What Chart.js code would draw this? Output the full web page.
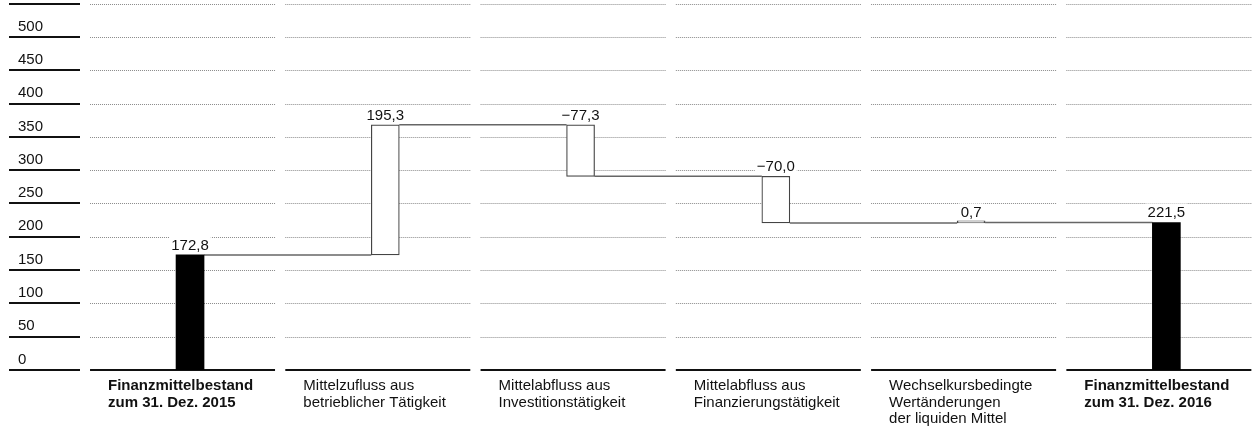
<!DOCTYPE html>
<html lang="de">
<head>
<meta charset="utf-8">
<title>Finanzmittelbestand 2016</title>
<script src="https://cdn.jsdelivr.net/npm/chart.js@4.4.0/dist/chart.umd.min.js"></script>
<style>
    html, body { margin: 0; padding: 0; background: #fff; overflow: hidden; }
    #wrap { width: 1264px; height: 435px; }
</style>
</head>
<body>
<div id="wrap"><canvas id="myChart" width="1264" height="435"></canvas></div>
<script>
//
// DATA (Mio. €)
//
const categories = [
    ['Finanzmittelbestand', 'zum 31. Dez. 2015'],
    ['Mittelzufluss aus', 'betrieblicher Tätigkeit'],
    ['Mittelabfluss aus', 'Investitionstätigkeit'],
    ['Mittelabfluss aus', 'Finanzierungstätigkeit'],
    ['Wechselkursbedingte', 'Wertänderungen', 'der liquiden Mittel'],
    ['Finanzmittelbestand', 'zum 31. Dez. 2016']
];
const values = [172.8, 195.3, -77.3, -70.0, 0.7, 221.5];
const isTotal = [true, false, false, false, false, true];
const yMax = 550;
const yStep = 50;

const FONT = "'Liberation Sans', Arial, sans-serif";


//
// floating bars: totals start at 0, movements start where the last one ended
//
let running = 0;
const ranges = values.map((v, i) => {
    if (isTotal[i]) {
        running = v;
        return [0, v];
    }
    const r = [running, running + v];
    running += v;
    return r;
});

// 172.8 -> "172,8", -77.3 -> "−77,3"
function fmt(v) {
    const s = Math.abs(v).toFixed(1).replace('.', ',');
    return v < 0 ? '\u2212' + s : s;
}

// labels must not push the plot area around
function noPadding(s) {
    s.paddingLeft = 0;
    s.paddingRight = 0;
    s.paddingTop = 0;
    s.paddingBottom = 0;
}


//
// grid per column, axis rules, connectors and value labels
//
const waterfallDecor = {
    id: 'waterfallDecor',
    beforeDatasetsDraw(chart) {
        const { ctx, scales: { x, y } } = chart;
        ctx.save();
        y.ticks.forEach(t => {
            const py = Math.round(y.getPixelForValue(t.value));

            // solid rule under each axis number
            ctx.setLineDash([]);
            ctx.strokeStyle = '#111';
            ctx.lineWidth = 2;
            ctx.beginPath();
            ctx.moveTo(y.left - 9, py);
            ctx.lineTo(y.left + 62, py);
            ctx.stroke();

            categories.forEach((c, i) => {
                const cx = x.getPixelForValue(i);
                const l = cx - 100;
                const r = cx + 85;
                ctx.beginPath();
                if (t.value === 0) {
                    ctx.setLineDash([]);
                    ctx.strokeStyle = '#111';
                    ctx.lineWidth = 2;
                    ctx.moveTo(l, py);
                    ctx.lineTo(r, py);
                } else {
                    ctx.setLineDash([1, 1]);
                    ctx.strokeStyle = '#8a8a8a';
                    ctx.lineWidth = 1;
                    ctx.moveTo(l, py + 0.5);
                    ctx.lineTo(r, py + 0.5);
                }
                ctx.stroke();
            });
        });

        // connectors between bars
        const meta = chart.getDatasetMeta(0);
        ctx.setLineDash([]);
        ctx.strokeStyle = '#666';
        ctx.lineWidth = 1.5;
        for (let i = 0; i < ranges.length - 1; i++) {
            const a = meta.data[i];
            const b = meta.data[i + 1];
            const py = y.getPixelForValue(ranges[i][1]);
            ctx.beginPath();
            ctx.moveTo(a.x + a.width / 2, py);
            ctx.lineTo(b.x - b.width / 2, py);
            ctx.stroke();
        }
        ctx.restore();
    },
    afterDatasetsDraw(chart) {
        const { ctx, scales: { y } } = chart;
        const meta = chart.getDatasetMeta(0);
        ctx.save();
        ctx.font = '15px ' + FONT;
        ctx.textAlign = 'center';
        ctx.textBaseline = 'alphabetic';
        values.forEach((v, i) => {
            const bar = meta.data[i];
            const top = y.getPixelForValue(Math.max(ranges[i][0], ranges[i][1]));
            const label = fmt(v);
            const w = ctx.measureText(label).width;
            const base = top - 5;
            ctx.fillStyle = '#fff';
            ctx.fillRect(bar.x - w / 2 - 2, base - 14, w + 4, 16);
            ctx.fillStyle = '#111';
            ctx.fillText(label, bar.x, base);
        });
        ctx.restore();
    }
};


//
// CHART
//
const myChart = new Chart(document.getElementById('myChart').getContext('2d'), {
    type: 'bar',
    data: {
        labels: categories,
        datasets: [{
            data: ranges,
            backgroundColor: isTotal.map(t => t ? '#000' : '#fff'),
            borderColor: isTotal.map(t => t ? '#000' : '#444'),
            borderWidth: isTotal.map(t => t ? 0 : 1.2),
            borderSkipped: false,
            minBarLength: 2,
            barThickness: 28
        }]
    },
    options: {
        responsive: false,
        devicePixelRatio: 1,
        animation: false,
        layout: {
            autoPadding: false,
            padding: { top: 3.7, left: 18, right: 0, bottom: 0 }
        },
        plugins: {
            legend: { display: false },
            tooltip: { enabled: false }
        },
        scales: {
            x: {
                type: 'category',
                offset: true,
                grid: { display: false, drawTicks: false },
                border: { display: false },
                ticks: {
                    align: 'start',
                    labelOffset: -82,
                    maxRotation: 0,
                    autoSkip: false,
                    padding: 8,
                    color: '#111',
                    font: (c) => ({
                        family: FONT,
                        size: 15,
                        lineHeight: 1.1,
                        weight: isTotal[c.index] ? 'bold' : 'normal'
                    })
                },
                afterFit: (s) => { s.height = 65; noPadding(s); }
            },
            y: {
                min: 0,
                max: yMax,
                grid: { display: false, drawTicks: false },
                border: { display: false },
                ticks: {
                    stepSize: yStep,
                    crossAlign: 'far',
                    labelOffset: -10.5,
                    padding: 0,
                    color: '#111',
                    font: { family: FONT, size: 15 },
                    callback: (v) => v === yMax ? '' : v
                },
                afterFit: (s) => { s.width = 74.4; noPadding(s); }
            }
        }
    },
    plugins: [waterfallDecor]
});
</script>
</body>
</html>
